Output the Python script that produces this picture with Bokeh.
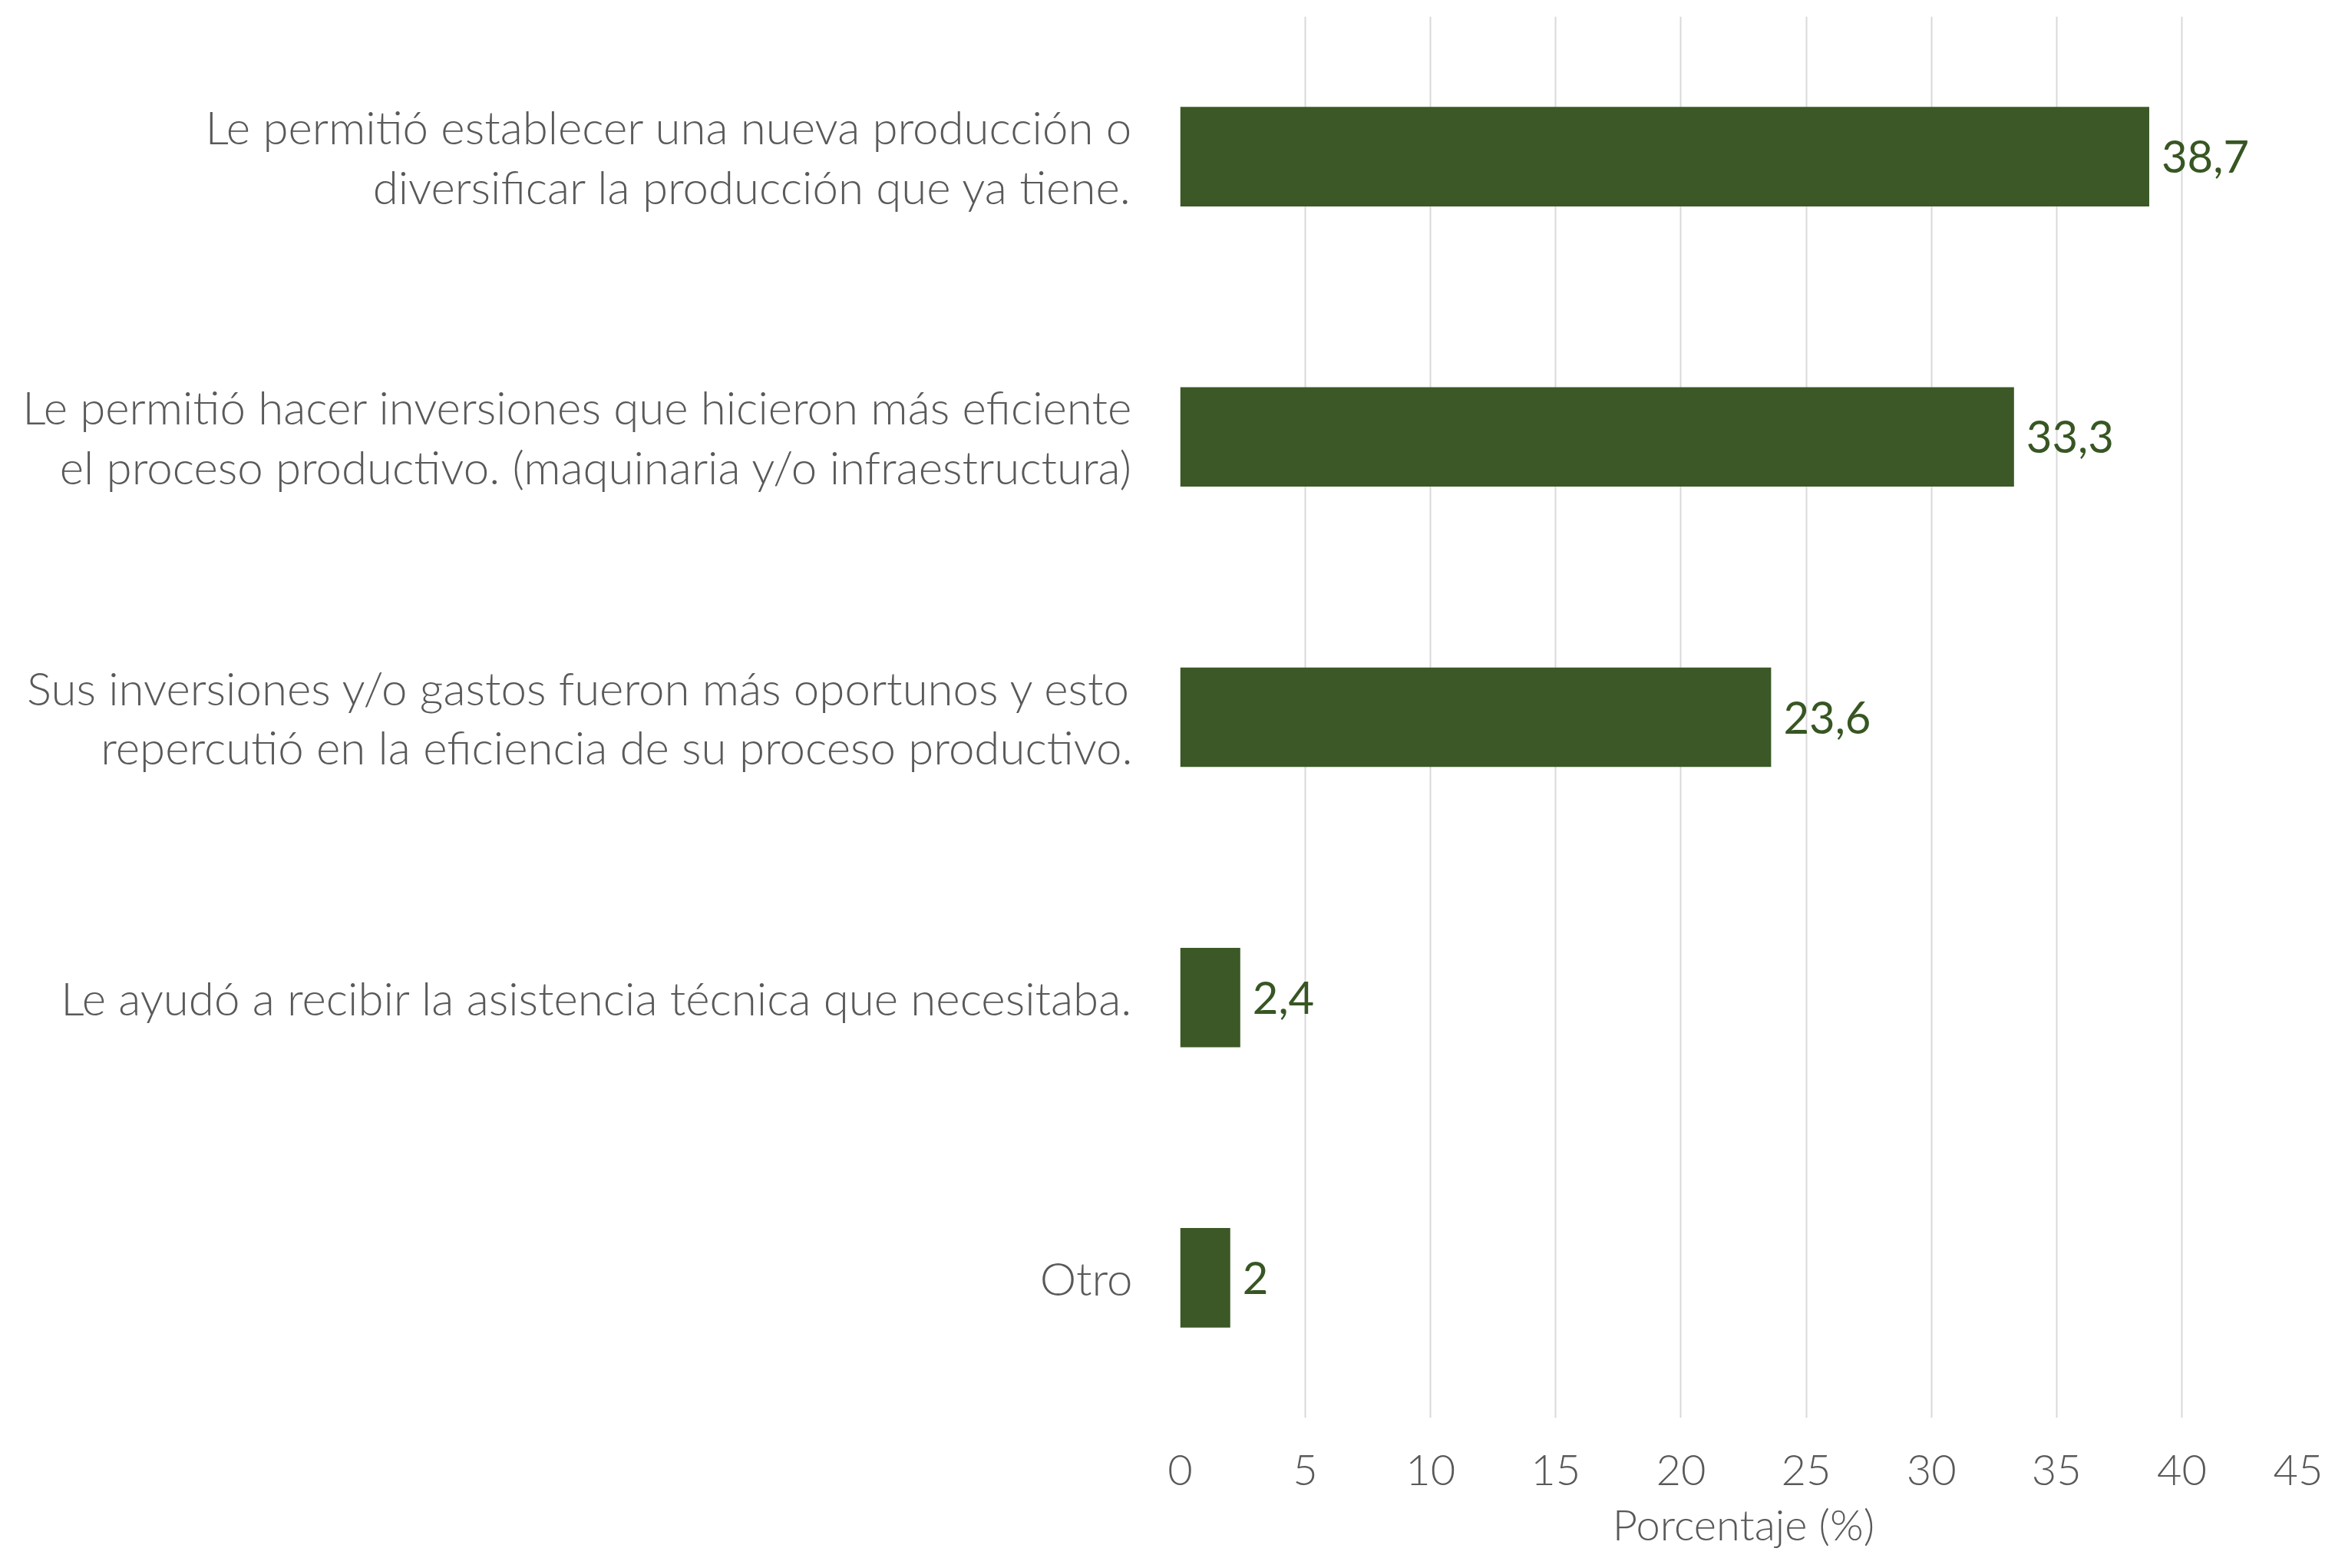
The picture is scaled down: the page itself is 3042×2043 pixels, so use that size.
from bokeh.plotting import figure
from bokeh.models import FactorRange, Range1d, FixedTicker, ColumnDataSource
from bokeh.core.properties import value
from bokeh.embed import file_html
from bokeh.resources import INLINE

categories = [
    "Le permitió establecer una nueva producción o\ndiversificar la producción que ya tiene.",
    "Le permitió hacer inversiones que hicieron más eficiente\nel proceso productivo. (maquinaria y/o infraestructura)",
    "Sus inversiones y/o gastos fueron más oportunos y esto\nrepercutió en la eficiencia de su proceso productivo.",
    "Le ayudó a recibir la asistencia técnica que necesitaba.",
    "Otro",
]
values = [38.7, 33.3, 23.6, 2.4, 2]
value_labels = ["38,7", "33,3", "23,6", "2,4", "2"]
x_ticks = [0, 5, 10, 15, 20, 25, 30, 35, 40, 45]
x_title = "Porcentaje (%)"

FONT = "Lato Light, Lato"
FONT_VAL = "Lato"
GRAY = "#595959"
GREEN = "#3B5826"
LABEL_GREEN = "#375623"

src = ColumnDataSource(dict(cat=categories, val=values, lab=value_labels))

p = figure(
    width=3026, height=2027,
    y_range=FactorRange(factors=list(reversed(categories))),
    x_range=Range1d(0, 45),
    output_backend="svg", toolbar_location=None,
    min_border_left=1537, min_border_right=21,
    min_border_top=21, min_border_bottom=180,
)
p.outline_line_color = None
p.background_fill_color = "white"
p.border_fill_color = "white"

p.hbar(y="cat", right="val", left=0, height=0.355, source=src,
       fill_color=GREEN, line_color=None)
p.text(x="val", y="cat", text="lab", source=src, x_offset=16,
       text_align="left", text_baseline="middle",
       text_font=value(FONT_VAL), text_font_size="58px", text_color=LABEL_GREEN)

# grids
p.ygrid.grid_line_color = None
p.xgrid.ticker = FixedTicker(ticks=x_ticks)
p.xgrid.grid_line_color = "#D9D9D9"
p.xgrid.grid_line_width = 2

# x axis
xa = p.xaxis[0]
xa.ticker = FixedTicker(ticks=x_ticks)
xa.axis_line_color = None
xa.major_tick_line_color = None
xa.minor_tick_line_color = None
xa.major_tick_out = 0
xa.major_tick_in = 0
xa.major_label_standoff = 48
xa.major_label_text_font = FONT
xa.major_label_text_font_size = "56px"
xa.major_label_text_color = GRAY
xa.axis_label = x_title
xa.axis_label_standoff = 14
xa.axis_label_text_font = FONT
xa.axis_label_text_font_size = "56px"
xa.axis_label_text_font_style = "normal"
xa.axis_label_text_color = GRAY

# y axis
ya = p.yaxis[0]
ya.axis_line_color = None
ya.major_tick_line_color = None
ya.minor_tick_line_color = None
ya.major_tick_out = 0
ya.major_tick_in = 0
ya.major_label_standoff = 62
ya.major_label_text_font = FONT
ya.major_label_text_font_size = "60px"
ya.major_label_text_color = GRAY
ya.major_label_text_line_height = 1.08

open("out.html", "w").write(file_html(p, INLINE))
